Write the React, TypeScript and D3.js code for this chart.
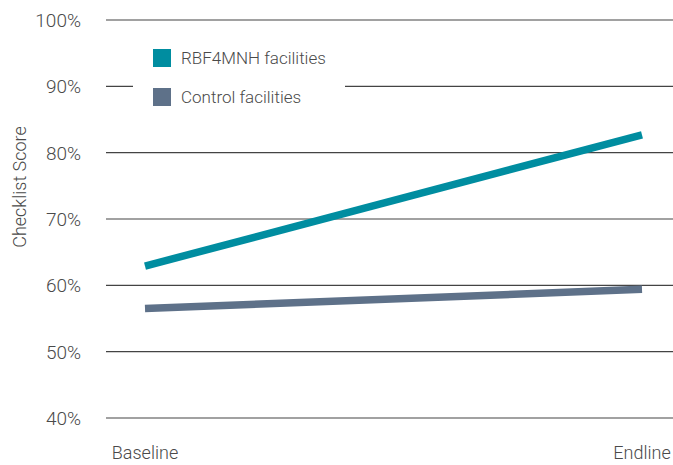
import * as React from "react";
import * as d3 from "d3";

const periods = ["Baseline", "Endline"];
const rbfValues = [62.9, 82.7];
const controlValues = [56.5, 59.4];
const yTicks = [40, 50, 60, 70, 80, 90, 100];
const seriesNames = ["RBF4MNH facilities", "Control facilities"];
const seriesColors = ["#008da0", "#5e7189"];

const width = 673;
const height = 465;
const font = "Roboto, 'Liberation Sans', sans-serif";

export default function App() {
  const x = d3.scalePoint<string>().domain(periods).range([145, 642]);
  const y = d3.scaleLinear().domain([40, 100]).range([418, 20]);

  const line = d3
    .line<number>()
    .x((_, i) => x(periods[i]) as number)
    .y((d) => y(d));

  const series = [rbfValues, controlValues];

  return (
    <svg
      width={width}
      height={height}
      style={{ position: "absolute", left: 0, top: 0, background: "#fff" }}
      fontFamily={font}
      fontWeight={300}
    >
      {/* grid + y labels */}
      {yTicks.map((t) => (
        <g key={t}>
          <line x1={106} x2={width} y1={y(t)} y2={y(t)} stroke="#444" strokeWidth={1.2} />
          <text x={81} y={y(t)} dy="0.36em" textAnchor="end" fontSize={19} fill="#4a4a4a">
            {t}%
          </text>
        </g>
      ))}

      <text
        transform={`translate(26,187) rotate(-90)`}
        textAnchor="middle"
        fontSize={18}
        fill="#4a4a4a"
      >
        Checklist Score
      </text>

      {/* legend box covers the grid line */}
      <rect x={133} y={38} width={212} height={78} fill="#fff" />
      {seriesNames.map((name, i) => (
        <g key={name} transform={`translate(153,${49 + i * 39})`}>
          <rect width={18} height={18} fill={seriesColors[i]} />
          <text x={28} y={9} dy="0.36em" fontSize={17} fill="#4a4a4a">
            {name}
          </text>
        </g>
      ))}

      {series.map((vals, i) => (
        <path
          key={i}
          d={line(vals) || ""}
          fill="none"
          stroke={seriesColors[i]}
          strokeWidth={7.5}
          strokeLinecap="butt"
        />
      ))}

      {periods.map((p) => (
        <text key={p} x={x(p)} y={459} textAnchor="middle" fontSize={18} fill="#4a4a4a">
          {p}
        </text>
      ))}
    </svg>
  );
}
